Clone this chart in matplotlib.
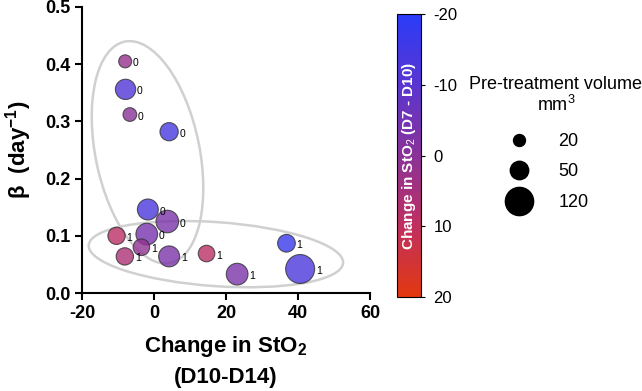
import matplotlib
matplotlib.use("Agg")
import matplotlib.pyplot as plt
import matplotlib.transforms as mtransforms
from matplotlib.patches import Ellipse
from matplotlib.colors import LinearSegmentedColormap, Normalize
from matplotlib.lines import Line2D
import numpy as np

plt.rcParams['font.family'] = ['Liberation Sans', 'DejaVu Sans']
plt.rcParams['axes.unicode_minus'] = False
plt.rcParams['mathtext.fontset'] = 'custom'
plt.rcParams['mathtext.rm'] = 'Liberation Sans'
plt.rcParams['mathtext.bf'] = 'Liberation Sans:bold'

# change in StO2 (D10-D14), beta, pre-treatment volume, StO2 change (D7-D10), group
sto2_d10_d14 = [-8.0, -7.9, -6.7, 4.2, -1.7, 3.7, -2.0, -10.4, -3.5, -8.1, 4.2, 14.6, 23.1, 36.8, 40.6]
beta = [0.405, 0.356, 0.312, 0.282, 0.146, 0.125, 0.103, 0.100, 0.080, 0.064, 0.064, 0.069, 0.033, 0.087, 0.042]
volume = [24, 61, 27, 49, 65, 76, 70, 44, 40, 44, 65, 40, 70, 46, 126]
sto2_d7_d10 = [2, -12, 0, -14, -13, -3, -4, 9, 1, 6, -3, 9, -3, -17, -13]
group = ['0', '0', '0', '0', '0', '0', '0', '1', '1', '1', '1', '1', '1', '1', '1']

legend_vols = [20, 50, 120]


def marker_size(v):
    return 3.4 * np.asarray(v) + 6


cmap = LinearSegmentedColormap.from_list(
    'bp', ['#2b3cf8', '#5a35d0', '#8a3298', '#c03060', '#e2380f'])
norm = Normalize(-20, 20)

fig = plt.figure(figsize=(6.42, 3.91), dpi=100)
ax = fig.add_axes([0.1277, 0.2506, 0.4486, 0.7315])

sizes = marker_size(volume)
ax.scatter(sto2_d10_d14, beta, s=sizes, c=sto2_d7_d10, cmap=cmap, norm=norm,
           alpha=0.8, edgecolors='#333333', linewidths=0.8, zorder=3)

for x, y, s, g in zip(sto2_d10_d14, beta, sizes, group):
    ax.annotate(g, (x, y), xytext=(np.sqrt(s) / 2 + 1, -1.5), textcoords='offset points',
                fontsize=7.5, ha='left', va='center', zorder=4)

# group outlines (sizes in inches, centred in data coords)
for cx, cy, w, h, ang in [(-1.8, 0.246, 1.04, 2.26, 11.6), (17.2, 0.068, 2.55, 0.64, -4.0)]:
    tr = fig.dpi_scale_trans + mtransforms.ScaledTranslation(cx, cy, ax.transData)
    ax.add_patch(Ellipse((0, 0), w, h, angle=ang, transform=tr, fill=False,
                         edgecolor='#d0d0d0', linewidth=1.8, zorder=2))

ax.set_xlim(-20, 60)
ax.set_ylim(0, 0.5)
ax.set_xticks([-20, 0, 20, 40, 60])
ax.set_yticks([0.0, 0.1, 0.2, 0.3, 0.4, 0.5])
ax.set_yticklabels(['0.0', '0.1', '0.2', '0.3', '0.4', '0.5'])
for sp in ['top', 'right']:
    ax.spines[sp].set_visible(False)
for sp in ['left', 'bottom']:
    ax.spines[sp].set_linewidth(1.5)
ax.tick_params(width=1.5, length=5, labelsize=13)
for lab in ax.get_xticklabels() + ax.get_yticklabels():
    lab.set_fontweight('bold')
ax.set_xlabel('Change in StO$_\\mathbf{2}$\n(D10-D14)', fontsize=16, fontweight='bold',
              linespacing=1.5, labelpad=9)
ax.set_ylabel('$\\mathbf{\\beta}$  (day$^{\\mathbf{-1}}$)', fontsize=16, fontweight='bold',
              labelpad=8)

# colour bar
cax = fig.add_axes([0.6184, 0.2404, 0.0374, 0.7238])
cb = fig.colorbar(plt.cm.ScalarMappable(norm=norm, cmap=cmap), cax=cax)
cb.set_ticks([-20, -10, 0, 10, 20])
cb.ax.invert_yaxis()
cb.ax.tick_params(labelsize=12, length=3, pad=6)
cb.outline.set_linewidth(0.8)
cax.text(0.5, 0.5, 'Change in StO$_2$ (D7 - D10)', rotation=90, color='white',
         fontsize=11, fontweight='bold', ha='center', va='center', transform=cax.transAxes)

# size legend
fig.text(0.866, 0.805, 'Pre-treatment volume\nmm$^3$', fontsize=13, ha='center', va='top',
         multialignment='center', linespacing=1.1)
handles = [Line2D([], [], linestyle='none', marker='o', color='black',
                  markersize=np.sqrt(marker_size(v))) for v in legend_vols]
fig.legend(handles, [str(v) for v in legend_vols], fontsize=13, frameon=False,
           loc='upper left', bbox_to_anchor=(0.780, 0.66), borderpad=0, borderaxespad=0,
           labelspacing=0.75, handletextpad=1.2)

fig.savefig('out.png', dpi=100)
